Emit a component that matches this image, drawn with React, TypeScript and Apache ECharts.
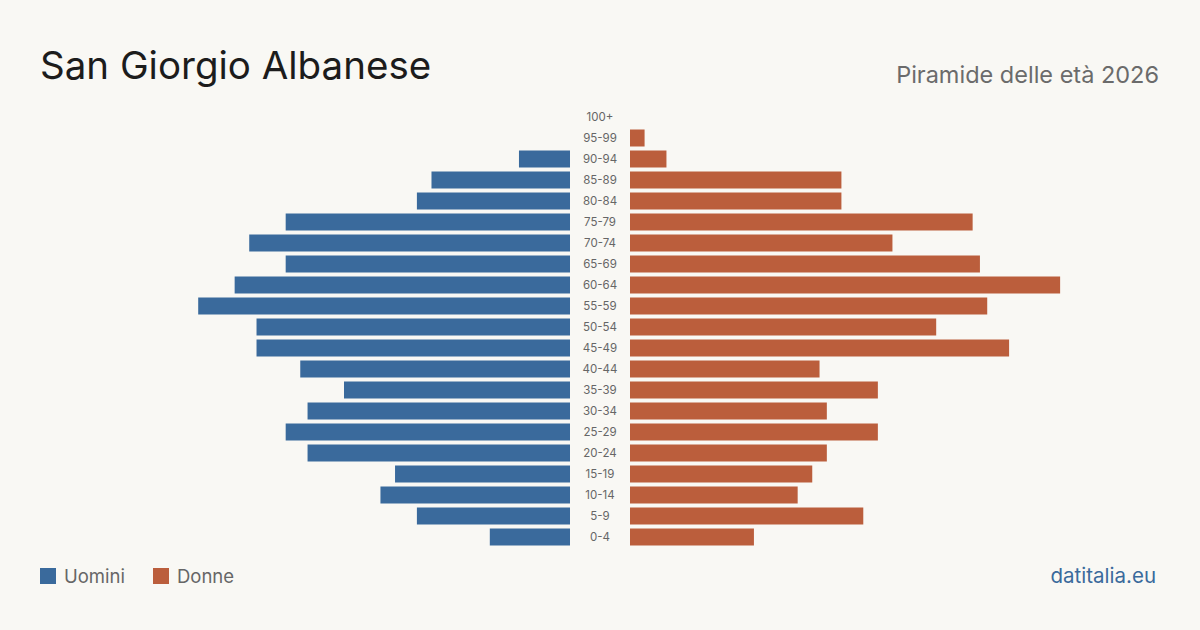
import React, { useEffect, useRef } from "react";
import * as echarts from "echarts";

const categories = ["100+","95-99","90-94","85-89","80-84","75-79","70-74","65-69","60-64","55-59","50-54","45-49","40-44","35-39","30-34","25-29","20-24","15-19","10-14","5-9","0-4"];
const men = [0,0,7,19,21,39,44,39,46,51,43,43,37,31,36,39,36,24,26,21,11];
const women = [0,2,5,29,29,47,36,48,59,49,42,52,26,34,27,34,27,25,23,32,17];

const BLUE = "#3a6a9c";
const RED = "#bb5e3c";
const FONT = "Inter, 'Noto Sans', sans-serif";

export default function App() {
  const ref = useRef<HTMLDivElement>(null);
  useEffect(() => {
    const chart = echarts.init(ref.current!, null, { renderer: "svg" });
    const cats = [...categories].reverse();
    const m = [...men].reverse();
    const w = [...women].reverse();
    const MAX = 72.7;
    chart.setOption({
      animation: false,
      backgroundColor: "#f9f8f4",
      grid: [
        { left: 40, width: 530, top: 106.5, height: 441, containLabel: false },
        { left: 630, width: 530, top: 106.5, height: 441, containLabel: false },
      ],
      xAxis: [
        { gridIndex: 0, type: "value", inverse: true, min: 0, max: MAX, show: false },
        { gridIndex: 1, type: "value", min: 0, max: MAX, show: false },
      ],
      yAxis: [
        { gridIndex: 0, type: "category", data: cats, show: false },
        {
          gridIndex: 1, type: "category", data: cats, position: "left",
          axisLine: { show: false }, axisTick: { show: false },
          axisLabel: { margin: 30, align: "center", fontSize: 11.5, color: "#666", fontFamily: FONT },
        },
      ],
      series: [
        { type: "bar", name: "Uomini", xAxisIndex: 0, yAxisIndex: 0, data: m, barWidth: 17, itemStyle: { color: BLUE } },
        { type: "bar", name: "Donne", xAxisIndex: 1, yAxisIndex: 1, data: w, barWidth: 17, itemStyle: { color: RED } },
      ],
      graphic: [
        { type: "text", left: 40, top: 45, style: { text: "San Giorgio Albanese", fontSize: 38.5, fontFamily: FONT, fill: "#1c1c1c" } },
        { type: "text", right: 41, top: 62, style: { text: "Piramide delle età 2026", fontSize: 23.5, fontFamily: FONT, fill: "#6b6b6b" } },
        { type: "rect", shape: { x: 40, y: 568, width: 16, height: 16 }, style: { fill: BLUE } },
        { type: "text", left: 64, top: 566, style: { text: "Uomini", fontSize: 18.5, fontFamily: FONT, fill: "#666" } },
        { type: "rect", shape: { x: 153, y: 568, width: 16, height: 16 }, style: { fill: RED } },
        { type: "text", left: 177, top: 566, style: { text: "Donne", fontSize: 18.5, fontFamily: FONT, fill: "#666" } },
        { type: "text", right: 44, top: 565, style: { text: "datitalia.eu", fontSize: 20.5, fontFamily: FONT, fill: BLUE } },
      ],
    });
    return () => chart.dispose();
  }, []);
  return <div ref={ref} style={{ position: "fixed", left: 0, top: 0, width: 1200, height: 630 }} />;
}
